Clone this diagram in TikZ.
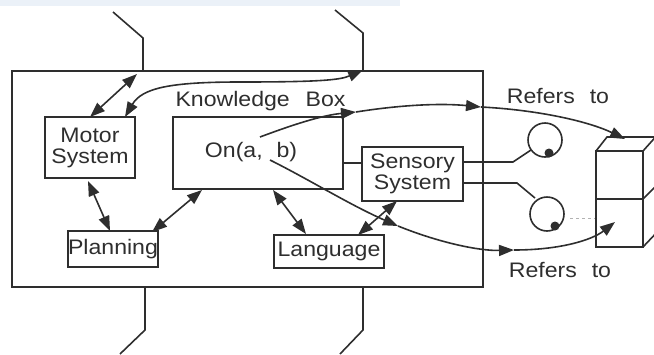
\documentclass[tikz,border=0pt]{standalone}
\usepackage{fontspec}
\setmainfont{Liberation Sans}[FakeStretch=1.1]
\usetikzlibrary{arrows.meta}
\definecolor{ink}{HTML}{2E2E2E}
\definecolor{band}{HTML}{EBF1F8}
\tikzset{
  every node/.style={font=\fontsize{21}{23}\selectfont, text=ink},
  ln/.style={draw=ink, line width=1.6pt},
  boxn/.style={ln, inner sep=0pt, align=center},
  one/.style={ln, -{Triangle[length=15pt,width=11pt]}},
  dbl/.style={ln, {Triangle[length=15pt,width=11pt]}-{Triangle[length=15pt,width=11pt]}}
}
\begin{document}
\begin{tikzpicture}[x=1pt,y=-1pt]
\useasboundingbox (0,0) rectangle (654,354);
\clip (0,0) rectangle (654,354);
\fill[band] (0,0) rectangle (400,6);

% outer box and connectors
\draw[ln] (12,71) rectangle (483,287);
\coordinate (tl) at (143,71);
\coordinate (tr) at (363,70);
\draw[ln] (tl) -- (143,38) -- (113,12);
\draw[ln] (tr) -- (363,33) -- (335,10);
\draw[ln] (145,287) -- (145,330) -- (120,354);
\draw[ln] (363,287) -- (363,330) -- (340,354);

% boxes
\node[boxn, minimum width=90pt, minimum height=61pt] (motor) at (90,147.5) {Motor\\[-2pt]System};
\node[boxn, minimum width=170pt, minimum height=72pt] (kb) at (258,153) {};
\node (kblabel) at (260.5,101) {Knowledge\hspace{0.45em} Box};
\node (onab) at (251,152) {On(a,\hspace{0.35em} b)};
\node[boxn, minimum width=101pt, minimum height=54pt] (sens) at (412.5,174) {Sensory\\[-2pt]System};
\node[boxn, minimum width=90pt, minimum height=36pt] (plan) at (113,249) {Planning};
\node[boxn, minimum width=110pt, minimum height=33pt] (lang) at (329,251.5) {Language};

% Knowledge box to Sensory
\draw[ln] (kb.east |- 0,163) -- (sens.west |- 0,163);

% double arrows
\draw[dbl] (90,117) -- (137,74);
\draw[dbl] (88,181) -- (110,231);
\draw[dbl] (152,232) -- (202,190);
\draw[dbl] (273,190) -- (306,234);
\draw[dbl] (397,201) -- (358,235);

% curve motor <-> top right connector
\draw[dbl] (125,117) .. controls (142,88) and (170,82) .. (240,82)
   .. controls (320,82) and (340,80) .. (tr);

% eyes
\coordinate (e1) at (545,140);
\coordinate (e2) at (547,214);
\draw[ln] (e1) circle (17);
\draw[ln] (e2) circle (17);
\fill[ink] (549,153) circle (4.5);
\fill[ink] (555,226) circle (4.5);
\draw[ln] (sens.east |- 0,162) -- (513,162) -- (531,150);
\draw[ln] (sens.east |- 0,183) -- (517,183) -- (535,198);
\draw[gray!60, line width=0.6pt, dashed] (570,218) -- (597,218);

% cube
\draw[ln] (596,151) rectangle (643,247);
\draw[ln] (596,199) -- (643,199);
\draw[ln] (596,151) -- (607,137) -- (660,137);
\draw[ln] (643,151) -- (660,132);
\draw[ln] (643,199) -- (660,182);
\draw[ln] (643,247) -- (660,229);

% refers-to curves (segmented, arrowhead at each joint)
\coordinate (s1) at (260,137);
\coordinate (m1) at (356,112);
\coordinate (m2) at (481,107);
\coordinate (c1) at (625,139);
\draw[one] (s1) .. controls (300,122) and (325,115) .. (m1);
\draw[one] (m1) .. controls (400,105) and (440,103) .. (m2);
\draw[one] (m2) .. controls (540,110) and (590,122) .. (c1);
\coordinate (s2) at (270,160);
\coordinate (n1) at (398,226);
\coordinate (n2) at (514,250);
\coordinate (c2) at (615,222);
\draw[one] (s2) .. controls (310,180) and (350,205) .. (n1);
\draw[one] (n1) .. controls (440,243) and (480,251) .. (n2);
\draw[one] (n2) .. controls (560,250) and (592,240) .. (c2);

\node (ref1) at (558,96) {Refers\hspace{0.4em} to};
\node (ref2) at (560,270) {Refers\hspace{0.4em} to};
\end{tikzpicture}
\end{document}
